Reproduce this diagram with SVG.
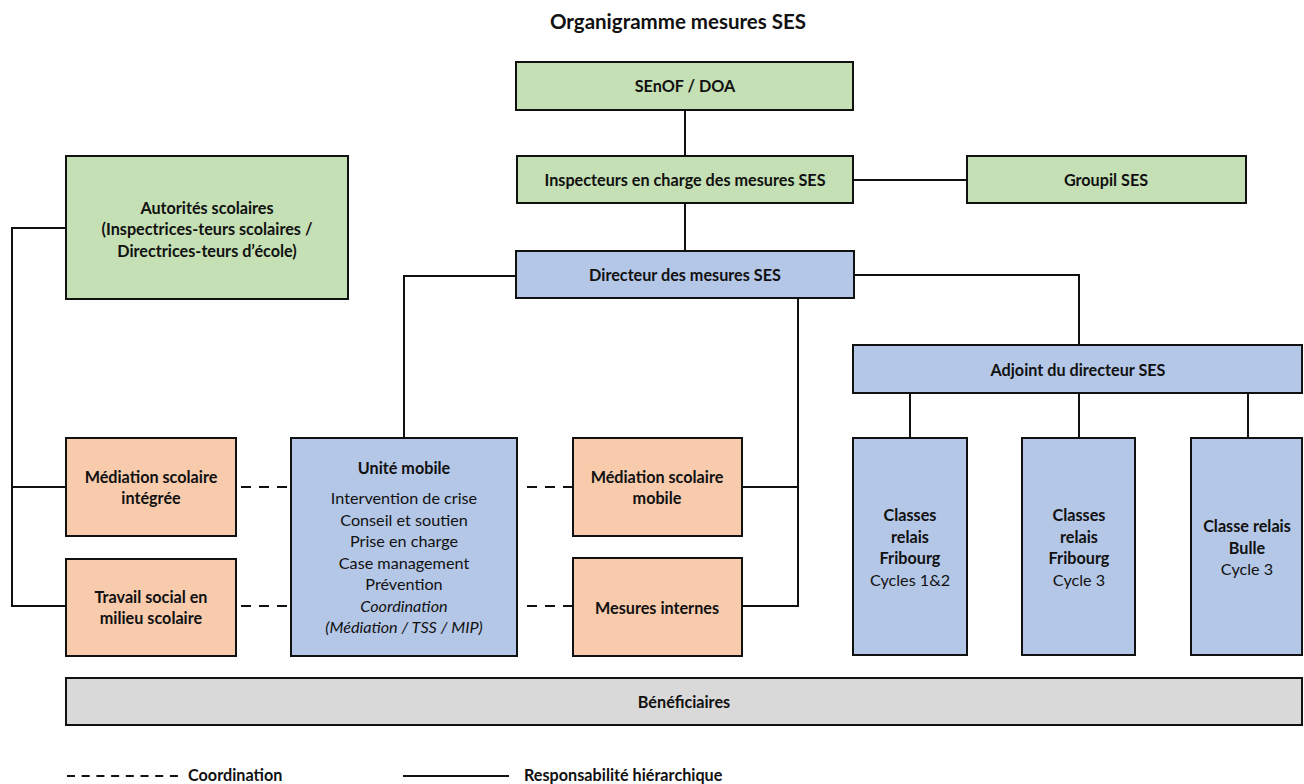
<svg xmlns="http://www.w3.org/2000/svg" width="1304" height="784" viewBox="0 0 1304 784">
<style>
text{font-family:Lato,"Open Sans","Liberation Sans",sans-serif;font-size:16.2px;fill:#111;text-anchor:middle}
.b{font-weight:bold}
.i{font-style:italic}
.title{font-size:20.5px;font-weight:bold}
.leg{text-anchor:start;font-weight:bold}
rect{stroke:#111;stroke-width:2}
.g{fill:#c5e0b4}.bl{fill:#b4c7e7}.o{fill:#f8cbad}.gr{fill:#d9d9d9}
.c line,.c path,.lg line{stroke:#111;stroke-width:2;fill:none}
.d{stroke-dasharray:10 8}
</style>
<rect width="1304" height="784" fill="#fff" style="stroke:none"/>
<text class="title" x="678" y="29">Organigramme mesures SES</text>

<g class="c" id="connectors">
<line x1="685" y1="110" x2="685" y2="156"/>
<line x1="853" y1="180" x2="967" y2="180"/>
<line x1="685" y1="203" x2="685" y2="251"/>
<path d="M516 276 H404 V438"/>
<path d="M854 275 H1079 V345"/>
<path d="M798 298 V606 H742"/>
<line x1="742" y1="487" x2="798" y2="487"/>
<path d="M66 228 H12 V606 H66"/>
<line x1="12" y1="487" x2="66" y2="487"/>
<line x1="910" y1="393" x2="910" y2="438"/>
<line x1="1079" y1="393" x2="1079" y2="438"/>
<line x1="1248" y1="393" x2="1248" y2="438"/>
<line class="d" x1="241" y1="487" x2="291" y2="487"/>
<line class="d" x1="241" y1="606" x2="291" y2="606"/>
<line class="d" x1="527" y1="487" x2="573" y2="487"/>
<line class="d" x1="527" y1="606" x2="573" y2="606"/>
</g>

<g id="senof"><rect class="g" x="516" y="62" width="337" height="48"/><text class="b" x="685" y="92">SEnOF / DOA</text></g>
<g id="inspecteurs"><rect class="g" x="517" y="156" width="336" height="47"/><text class="b" x="685" y="186">Inspecteurs en charge des mesures SES</text></g>
<g id="groupil"><rect class="g" x="967" y="156" width="279" height="47"/><text class="b" x="1106" y="186">Groupil SES</text></g>
<g id="directeur"><rect class="bl" x="516" y="251" width="338" height="47"/><text class="b" x="685" y="281">Directeur des mesures SES</text></g>
<g id="autorites"><rect class="g" x="66" y="156" width="282" height="143"/>
<text class="b" x="207" y="214">Autorités scolaires</text>
<text class="b" x="207" y="235">(Inspectrices-teurs scolaires /</text>
<text class="b" x="207" y="257">Directrices-teurs d’école)</text></g>
<g id="adjoint"><rect class="bl" x="853" y="345" width="449" height="48"/><text class="b" x="1078" y="376">Adjoint du directeur SES</text></g>

<g id="mediation-integree"><rect class="o" x="66" y="438" width="170" height="98"/>
<text class="b" x="151" y="483">Médiation scolaire</text><text class="b" x="151" y="504">intégrée</text></g>
<g id="travail-social"><rect class="o" x="66" y="559" width="170" height="97"/>
<text class="b" x="151" y="603">Travail social en</text><text class="b" x="151" y="624">milieu scolaire</text></g>
<g id="unite-mobile"><rect class="bl" x="291" y="438" width="226" height="218"/>
<text class="b" x="404" y="474">Unité mobile</text>
<text x="404" y="504">Intervention de crise</text>
<text x="404" y="526">Conseil et soutien</text>
<text x="404" y="547">Prise en charge</text>
<text x="404" y="569">Case management</text>
<text x="404" y="590">Prévention</text>
<text class="i" x="404" y="612">Coordination</text>
<text class="i" x="404" y="633">(Médiation / TSS / MIP)</text></g>
<g id="mediation-mobile"><rect class="o" x="573" y="438" width="169" height="98"/>
<text class="b" x="657" y="483">Médiation scolaire</text><text class="b" x="657" y="504">mobile</text></g>
<g id="mesures-internes"><rect class="o" x="573" y="558" width="169" height="98"/>
<text class="b" x="657" y="614">Mesures internes</text></g>

<g id="classes-fr-12"><rect class="bl" x="853" y="438" width="114" height="217"/>
<text class="b" x="910" y="521">Classes</text><text class="b" x="910" y="543">relais</text><text class="b" x="910" y="564">Fribourg</text><text x="910" y="586">Cycles 1&amp;2</text></g>
<g id="classes-fr-3"><rect class="bl" x="1022" y="438" width="113" height="217"/>
<text class="b" x="1079" y="521">Classes</text><text class="b" x="1079" y="543">relais</text><text class="b" x="1079" y="564">Fribourg</text><text x="1079" y="586">Cycle 3</text></g>
<g id="classe-bulle"><rect class="bl" x="1191" y="438" width="111" height="217"/>
<text class="b" x="1247" y="532">Classe relais</text><text class="b" x="1247" y="554">Bulle</text><text x="1247" y="575">Cycle 3</text></g>

<g id="beneficiaires"><rect class="gr" x="66" y="678" width="1236" height="47"/><text class="b" x="684" y="708">Bénéficiaires</text></g>

<g class="lg" id="legend">
<line x1="67" y1="776" x2="178" y2="776" style="stroke-dasharray:8 6.7"/>
<text class="leg" x="188" y="781">Coordination</text>
<line x1="403" y1="776" x2="509" y2="776"/>
<text class="leg" x="524" y="781">Responsabilité hiérarchique</text>
</g>
</svg>
